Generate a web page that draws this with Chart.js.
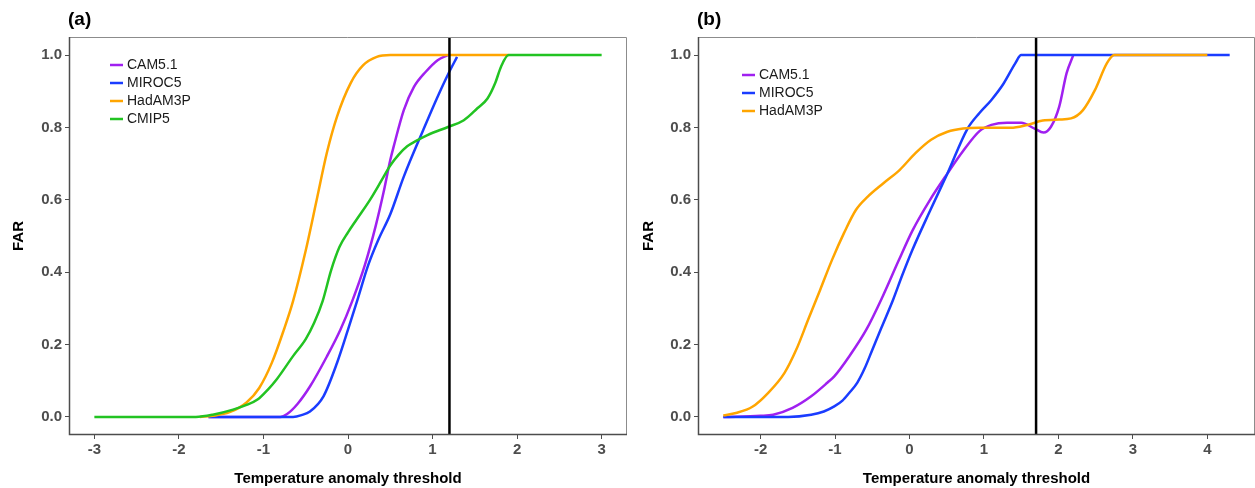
<!DOCTYPE html>
<html>
<head>
<meta charset="utf-8">
<script src="https://cdn.jsdelivr.net/npm/chart.js@4.4.0/dist/chart.umd.min.js"></script>
<style>
  body { margin: 0; background: #fff; }
  .panel { position: absolute; top: 0; height: 488px; }
  #wrapA { left: 0; width: 630px; }
  #wrapB { left: 630px; width: 625px; }
</style>
</head>
<body>
<div class="panel" id="wrapA"><canvas id="chartA"></canvas></div>
<div class="panel" id="wrapB"><canvas id="chartB"></canvas></div>
<script>
// ---- panel (a) data ----
const aCamX = [-1.65, -0.8, -0.72, -0.6, -0.45, -0.25, -0.09, 0.05, 0.2, 0.33, 0.42, 0.5, 0.54, 0.66, 0.78, 0.92, 1.06, 1.18];
const aCamY = [0, 0, 0.008, 0.035, 0.084, 0.167, 0.241, 0.32, 0.42, 0.53, 0.62, 0.71, 0.747, 0.848, 0.912, 0.954, 0.986, 1.0];
const aMirX = [-1.65, -0.65, -0.55, -0.45, -0.29, -0.13, 0.0, 0.12, 0.24, 0.36, 0.5, 0.66, 0.89, 1.06, 1.19, 1.29];
const aMirY = [0, 0, 0.005, 0.015, 0.057, 0.149, 0.241, 0.33, 0.42, 0.49, 0.56, 0.664, 0.793, 0.885, 0.95, 0.995];
const aHadX = [-1.75, -1.6, -1.4, -1.2, -1.05, -0.9, -0.76, -0.65, -0.5, -0.37, -0.25, -0.13, 0.03, 0.18, 0.34, 0.5, 1.9];
const aHadY = [0, 0.003, 0.013, 0.04, 0.08, 0.15, 0.24, 0.32, 0.46, 0.6, 0.73, 0.83, 0.922, 0.972, 0.995, 1.0, 1.0];
const aCmipX = [-3, -1.8, -1.6, -1.36, -1.2, -1.07, -0.95, -0.84, -0.65, -0.5, -0.4, -0.3, -0.2, -0.1, 0.0, 0.1, 0.26, 0.4, 0.5, 0.6, 0.7, 0.8, 0.94, 1.19, 1.37, 1.53, 1.65, 1.74, 1.81, 1.9, 3];
const aCmipY = [0, 0, 0.006, 0.02, 0.033, 0.048, 0.075, 0.105, 0.168, 0.215, 0.26, 0.32, 0.405, 0.47, 0.51, 0.545, 0.6, 0.655, 0.695, 0.725, 0.748, 0.762, 0.779, 0.802, 0.82, 0.853, 0.88, 0.922, 0.968, 1.0, 1.0];
const aThreshold = 1.2;
const aXTicks = [-3, -2, -1, 0, 1, 2, 3];

// ---- panel (b) data ----
const bCamX = [-2.5, -2.0, -1.83, -1.57, -1.32, -1.1, -1.01, -0.81, -0.58, -0.36, -0.15, 0.04, 0.27, 0.51, 0.72, 0.94, 1.1, 1.31, 1.5, 1.68, 1.8, 1.9, 2.01, 2.11, 2.2];
const bCamY = [0, 0.003, 0.006, 0.025, 0.057, 0.095, 0.112, 0.167, 0.241, 0.333, 0.43, 0.515, 0.598, 0.673, 0.735, 0.79, 0.807, 0.813, 0.813, 0.797, 0.786, 0.802, 0.857, 0.95, 1.0];
const bMirX = [-2.5, -1.63, -1.32, -1.15, -1.01, -0.9, -0.81, -0.7, -0.6, -0.5, -0.38, -0.22, -0.1, 0.04, 0.27, 0.51, 0.78, 0.94, 1.1, 1.26, 1.42, 1.5, 4.3];
const bMirY = [0, 0, 0.006, 0.015, 0.029, 0.045, 0.066, 0.095, 0.135, 0.185, 0.245, 0.324, 0.39, 0.462, 0.567, 0.673, 0.797, 0.84, 0.876, 0.92, 0.977, 1.0, 1.0];
const bHadX = [-2.5, -2.33, -2.11, -1.9, -1.68, -1.52, -1.36, -1.2, -1.04, -0.88, -0.72, -0.56, -0.35, -0.13, 0.08, 0.29, 0.51, 0.72, 0.94, 1.36, 1.58, 1.79, 2.01, 2.17, 2.33, 2.49, 2.65, 2.75, 4.0];
const bHadY = [0.004, 0.011, 0.028, 0.066, 0.121, 0.186, 0.269, 0.351, 0.434, 0.508, 0.572, 0.609, 0.646, 0.683, 0.729, 0.766, 0.788, 0.797, 0.799, 0.799, 0.807, 0.819, 0.822, 0.825, 0.848, 0.903, 0.977, 1.0, 1.0];
const bThreshold = 1.7;
const bXTicks = [-2, -1, 0, 1, 2, 3, 4];

const yTicks = [0, 0.2, 0.4, 0.6, 0.8, 1.0];
const colors = { cam: '#a020f0', mir: '#1a3cff', had: '#ffa500', cmip: '#22c322' };

Chart.defaults.font.family = "'Liberation Sans', Arial, sans-serif";

const pts = (xs, ys) => xs.map((x, i) => ({ x: x, y: ys[i] }));

// frame, panel letter and inside legend
const decor = {
    id: 'decor',
    afterDatasetsDraw(chart, args, opts) {
        const { ctx, chartArea: a } = chart;
        ctx.save();
        ctx.strokeStyle = '#8c8c8c';
        ctx.lineWidth = 1;
        ctx.beginPath();
        ctx.moveTo(a.left, a.top + 0.5);
        ctx.lineTo(a.right - 0.5, a.top + 0.5);
        ctx.lineTo(a.right - 0.5, a.bottom);
        ctx.stroke();
        ctx.strokeStyle = '#4d4d4d';
        ctx.lineWidth = 1.5;
        ctx.beginPath();
        ctx.moveTo(a.left + 0.5, a.top);
        ctx.lineTo(a.left + 0.5, a.bottom - 0.5);
        ctx.lineTo(a.right, a.bottom - 0.5);
        ctx.stroke();

        ctx.fillStyle = '#000';
        ctx.font = "bold 19px 'Liberation Sans', Arial, sans-serif";
        ctx.textBaseline = 'middle';
        ctx.textAlign = 'left';
        ctx.fillText(opts.letter, a.left - 1, 20);

        ctx.font = "14px 'Liberation Sans', Arial, sans-serif";
        let y = a.top + opts.legendY;
        chart.data.datasets.filter(d => d.label).forEach(d => {
            ctx.strokeStyle = d.borderColor;
            ctx.lineWidth = 2.5;
            ctx.beginPath();
            ctx.moveTo(a.left + opts.legendX, y);
            ctx.lineTo(a.left + opts.legendX + 13, y);
            ctx.stroke();
            ctx.fillStyle = '#1a1a1a';
            ctx.fillText(d.label, a.left + opts.legendX + 17, y);
            y += 18;
        });
        ctx.restore();
    }
};

function makePanel(canvasId, series, threshold, xMin, xMax, xTicks, pad, yWidth, letter, legendX, legendY) {
    const datasets = series.map(s => ({
        label: s.label,
        data: pts(s.x, s.y),
        borderColor: s.color,
        borderWidth: 2.5,
        pointRadius: 0,
        fill: false,
        cubicInterpolationMode: 'monotone'
    }));
    datasets.push({
        label: null,
        data: [{ x: threshold, y: -0.05 }, { x: threshold, y: 1.05 }],
        borderColor: '#000',
        borderWidth: 2.5,
        pointRadius: 0,
        tension: 0
    });
    datasets.forEach((d, i) => d.order = datasets.length - i);

    const tickFont = { size: 15, weight: 'bold' };
    new Chart(document.getElementById(canvasId), {
        type: 'line',
        data: { datasets: datasets },
        plugins: [decor],
        options: {
            responsive: true,
            maintainAspectRatio: false,
            animation: false,
            layout: { padding: pad },
            plugins: {
                legend: { display: false },
                tooltip: { enabled: false },
                decor: { letter: letter, legendX: legendX, legendY: legendY }
            },
            scales: {
                x: {
                    type: 'linear',
                    min: xMin,
                    max: xMax,
                    afterBuildTicks: s => { s.ticks = xTicks.map(v => ({ value: v })); },
                    afterFit: s => { s.height = 53; },
                    grid: { drawOnChartArea: false, drawTicks: true, tickLength: 4, color: '#4d4d4d' },
                    border: { display: false },
                    ticks: { font: tickFont, color: '#4d4d4d', padding: 2, maxRotation: 0, autoSkip: false },
                    title: { display: true, text: 'Temperature anomaly threshold', color: '#000',
                             font: { size: 15, weight: 'bold' }, padding: { top: 0, bottom: 0 } }
                },
                y: {
                    min: -0.05,
                    max: 1.05,
                    afterBuildTicks: s => { s.ticks = yTicks.map(v => ({ value: v })); },
                    afterFit: s => { s.width = yWidth; },
                    grid: { drawOnChartArea: false, drawTicks: true, tickLength: 4, color: '#4d4d4d' },
                    border: { display: false },
                    ticks: { font: tickFont, color: '#4d4d4d', padding: 3, callback: v => v.toFixed(1) },
                    title: { display: true, text: 'FAR', color: '#000',
                             font: { size: 15, weight: 'bold' }, padding: { top: 10, bottom: 0 } }
                }
            }
        }
    });
}

makePanel('chartA', [
    { label: 'CAM5.1', x: aCamX, y: aCamY, color: colors.cam },
    { label: 'MIROC5', x: aMirX, y: aMirY, color: colors.mir },
    { label: 'HadAM3P', x: aHadX, y: aHadY, color: colors.had },
    { label: 'CMIP5', x: aCmipX, y: aCmipY, color: colors.cmip }
], aThreshold, -3.3, 3.3, aXTicks, { top: 37, right: 3, left: 0, bottom: 0 }, 69, '(a)', 41, 28);

makePanel('chartB', [
    { label: 'CAM5.1', x: bCamX, y: bCamY, color: colors.cam },
    { label: 'MIROC5', x: bMirX, y: bMirY, color: colors.mir },
    { label: 'HadAM3P', x: bHadX, y: bHadY, color: colors.had }
], bThreshold, -2.84, 4.64, bXTicks, { top: 37, right: 0, left: 0, bottom: 0 }, 68, '(b)', 44, 38);
</script>
</body>
</html>
